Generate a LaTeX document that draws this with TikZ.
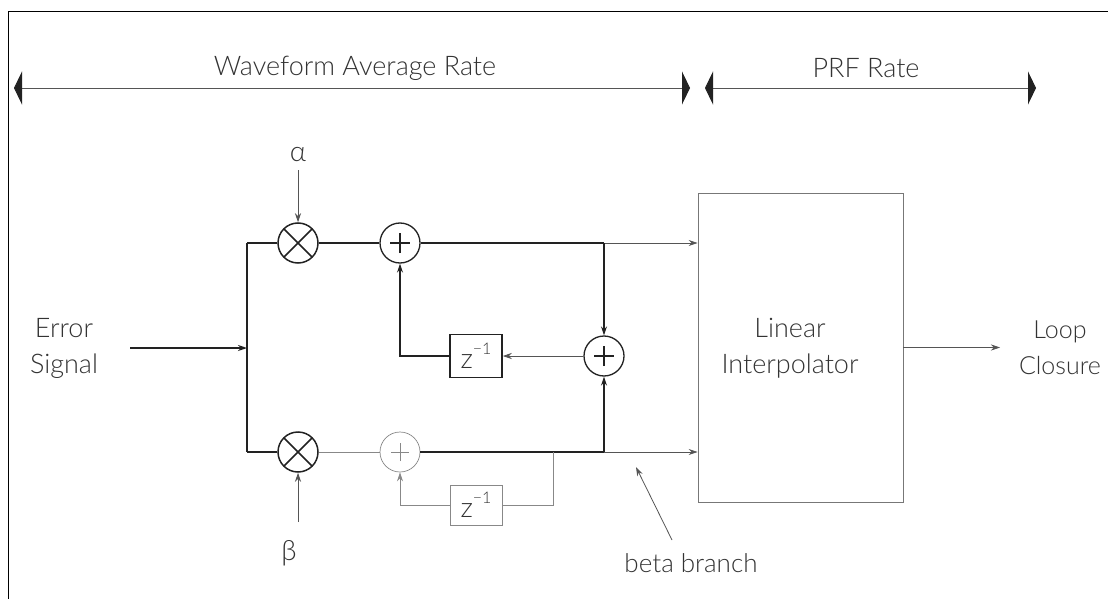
\documentclass[tikz,border=0pt]{standalone}
\usepackage{fontspec}
\setmainfont{Lato}[UprightFont=* Light]
\usetikzlibrary{arrows.meta}
\definecolor{ink}{HTML}{222222}
\definecolor{thin}{HTML}{555555}
\definecolor{txt}{HTML}{333333}
\tikzset{
  thick line/.style={draw=ink, line width=1.8pt},
  thin line/.style={draw=thin, line width=0.8pt},
  arr/.style={-{Stealth[length=9pt,width=6pt]}},
  rangetip/.style={{Triangle[length=8pt,width=33pt,color=ink,fill=ink]}-{Triangle[length=8pt,width=33pt,color=ink,fill=ink]}},
  mult/.style={circle, draw=ink, line width=1.5pt, minimum size=40pt, inner sep=0pt,
    path picture={\draw[ink, line width=1.5pt] (path picture bounding box.north west) -- (path picture bounding box.south east)
      (path picture bounding box.north east) -- (path picture bounding box.south west);}},
  adder/.style={circle, draw=ink, line width=1.3pt, minimum size=40pt, inner sep=0pt,
    path picture={\draw[ink, line width=1.3pt] ([xshift=-10pt]path picture bounding box.center) -- ([xshift=10pt]path picture bounding box.center)
      ([yshift=-10pt]path picture bounding box.center) -- ([yshift=10pt]path picture bounding box.center);}},
  ladder/.style={circle, draw=thin!70, line width=0.7pt, minimum size=40pt, inner sep=0pt,
    path picture={\draw[thin!70, line width=0.6pt] ([xshift=-9pt]path picture bounding box.center) -- ([xshift=9pt]path picture bounding box.center)
      ([yshift=-9pt]path picture bounding box.center) -- ([yshift=9pt]path picture bounding box.center);}},
  delay/.style={draw=ink, line width=1.5pt, minimum width=52pt, minimum height=43pt, inner sep=0pt, font=\fontsize{28}{30}\selectfont, text=txt},
  ldelay/.style={draw=thin!70, line width=0.7pt, minimum width=52pt, minimum height=40pt, inner sep=0pt, font=\fontsize{28}{30}\selectfont, text=txt},
  lbl/.style={font=\fontsize{27}{36}\selectfont, text=txt, align=center},
}
\newcommand{\zinv}{z\raisebox{0.5em}{\fontsize{16}{16}\selectfont −1}}
\begin{document}
\begin{tikzpicture}[x=1pt,y=-1pt]
\useasboundingbox (0,0) rectangle (1108,599);
\fill[white] (0,0) rectangle (1108,599);
% frame
\draw[thin, line width=0.8pt] (8,599) -- (8,11) -- (1108,11);

% rate ranges
\coordinate (r1a) at (14,88); \coordinate (r1b) at (690,88);
\coordinate (r2a) at (705,88); \coordinate (r2b) at (1036,88);
\draw[thin line, rangetip] (r1a) -- (r1b);
\draw[thin line, rangetip] (r2a) -- (r2b);
\node[lbl] (wart) at (355,68) {Waveform Average Rate};
\node[lbl] (prf) at (866,68) {PRF Rate};

% nodes
\node[mult] (ma) at (298,243) {};
\node[adder] (aa) at (400,243) {};
\node[mult] (mb) at (298,452) {};
\node[ladder] (ab) at (400,452) {};
\node[adder] (sum) at (604,356) {};
\node[delay] (za) at (476,356) {\zinv};
\node[ldelay] (zb) at (476,505) {\zinv};
\node[draw=thin!80, line width=0.8pt, minimum width=205pt, minimum height=309pt, inner sep=0pt] (li) at (800.5,347.5) {};
\node[lbl] (litxt) at (790,348) {Linear\\Interpolator};
\node[lbl] (err) at (64,348) {Error\\Signal};
\node[lbl, font=\fontsize{25}{36}\selectfont] (loop) at (1060,348) {Loop\\Closure};
\node[font=\fontsize{28}{30}\selectfont, text=txt] (alpha) at (298,155) {α};
\node[font=\fontsize{28}{30}\selectfont, text=txt] (beta) at (289,553) {β};
\node[font=\fontsize{26}{28}\selectfont, text=txt] (bb) at (691,563) {beta branch};

\coordinate (busT) at (247,243);
\coordinate (busB) at (247,452);
\coordinate (busM) at (247,348);
\coordinate (tR) at (604,243);
\coordinate (bR) at (604,452);
\coordinate (tap) at (553,452);
\coordinate (tapD) at (553,505);
\coordinate (fbA) at (400,356);
\coordinate (fbB) at (400,505);
\coordinate (eS) at (130,348);
\coordinate (aS) at (298,170);
\coordinate (bS) at (298,522);
\coordinate (bbS) at (672,540);
\coordinate (bbE) at (636,467);

% left bus
\draw[thick line] (busT) -- (busB);
\draw[thick line, arr] (eS) -- (busM);
\draw[thick line] (busT) -- (ma.west);
\draw[thick line] (busB) -- (mb.west);
\draw[thin line, arr] (aS) -- (ma.north);
\draw[thin line, arr] (bS) -- (mb.south);

% alpha path
\draw[thick line] (ma.east) -- (aa.west);
\draw[thick line] (aa.east) -- (tR);
\draw[thin line, arr] (tR) -- (li.west |- tR);
\draw[thick line, arr] (tR) -- (sum.north);
\draw[thin line, arr] (sum.west) -- (za.east);
\draw[thick line, arr] (za.west) -- (fbA) -- (aa.south);

% beta path
\draw[thin line, draw=thin!70] (mb.east) -- (ab.west);
\draw[thick line] (ab.east) -- (bR);
\draw[thin line, arr] (bR) -- (li.west |- bR);
\draw[thick line, arr] (bR) -- (sum.south);
\draw[thin line, draw=thin!70] (tap) -- (tapD) -- (zb.east);
\draw[thin line, draw=thin!70, arr] (zb.west) -- (fbB) -- (ab.south);

% output
\draw[thin line, arr] (li.east) -- (li.east -| 1000,0);
\draw[thin line, arr] (bbS) -- (bbE);
\end{tikzpicture}
\end{document}
